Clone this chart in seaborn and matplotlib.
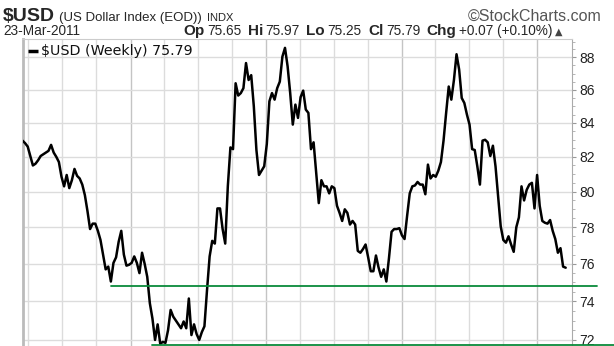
import matplotlib
matplotlib.use("Agg")
import matplotlib.pyplot as plt
import matplotlib.dates as mdates
from matplotlib.ticker import FixedLocator, NullFormatter
import numpy as np
import pandas as pd
import seaborn as sns

# ---------------- data ----------------
week_ending = pd.date_range(end="2011-03-18", periods=210, freq="W-FRI")

usd_close = [
    82.95, 82.8, 82.6, 82.05, 81.5, 81.6, 81.8, 82.05, 82.15, 82.25,
    82.35, 82.7, 82.25, 82.0, 81.7, 80.85, 80.3, 80.95, 80.2, 80.65,
    81.3, 80.9, 80.75, 80.4, 79.8, 78.9, 77.9, 78.2, 78.2, 77.8,
    77.3, 76.5, 75.7, 75.85, 75.05, 76.05, 76.35, 77.2, 77.8, 76.5,
    75.9, 75.95, 76.05, 76.4, 76.05, 75.5, 76.6, 76.0, 75.3, 73.9,
    73.1, 72.0, 72.8, 71.8, 71.9, 71.85, 72.5, 73.55, 73.2, 73.0,
    72.8, 72.6, 72.95, 72.6, 74.15, 72.25, 72.8, 72.3, 72.0, 72.4,
    72.7, 74.6, 76.4, 77.25, 77.1, 79.05, 79.05, 77.9, 77.1, 80.3,
    82.55, 82.45, 86.4, 85.65, 85.8, 86.1, 87.65, 86.6, 86.9, 85.0,
    82.4, 80.95, 81.2, 81.45, 82.75, 85.3, 85.8, 85.4, 86.1, 86.5,
    88.05, 88.6, 87.45, 85.8, 83.9, 85.1, 84.3, 85.55, 85.95, 84.8,
    84.6, 82.45, 82.85, 81.05, 79.35, 80.65, 80.3, 80.3, 79.9, 80.3,
    80.2, 79.2, 78.8, 78.35, 79.0, 78.8, 78.15, 78.35, 78.15, 76.7,
    76.6, 76.8, 77.05, 76.35, 75.6, 75.6, 76.45, 75.8, 75.3, 75.7,
    75.05, 76.3, 77.75, 77.9, 77.9, 77.95, 77.55, 77.35, 78.65, 79.9,
    80.3, 80.35, 80.55, 80.4, 80.4, 79.85, 81.55, 80.75, 80.95, 80.85,
    81.2, 81.7, 82.95, 84.6, 86.2, 85.4, 86.6, 88.2, 87.25, 85.5,
    85.2, 84.5, 83.9, 82.45, 82.4, 81.45, 80.4, 82.95, 83.0, 82.85,
    82.05, 82.65, 81.45, 79.7, 78.05, 77.3, 77.15, 77.5, 77.05, 76.65,
    78.0, 78.55, 80.3, 79.5, 80.1, 80.4, 80.5, 79.05, 80.95, 79.2,
    78.35, 78.25, 78.2, 78.4, 77.8, 77.35, 76.6, 76.85, 75.85, 75.79,
]

y_ticks = [72, 74, 76, 78, 80, 82, 84, 86, 88]
y_tick_labels = ["72", "74", "76", "78", "80", "82", "84", "86", "88"]

support_levels = [74.8, 71.75]
support_from = ["2007-11-09", "2008-02-29"]

quarter_starts = pd.date_range("2007-04-01", "2011-01-01", freq="QS")
year_starts = pd.date_range("2008-01-01", "2011-01-01", freq="YS")

title_symbol = "$USD"
title_name = "(US Dollar Index (EOD))"
title_exchange = "INDX"
credit = "\u00a9StockCharts.com"
date_label = "23-Mar-2011"
quote_labels = ["Op", "Hi", "Lo", "Cl", "Chg"]
quote_values = ["75.65", "75.97", "75.25", "75.79", "+0.07 (+0.10%)"]
legend_label = "$USD (Weekly) 75.79"

df = pd.DataFrame({"date": week_ending, "close": usd_close})

# ---------------- figure ----------------
sns.set_theme(style="white")
plt.rcParams["font.family"] = ["Liberation Sans", "DejaVu Sans"]

W, H = 614, 346
fig = plt.figure(figsize=(W / 100, H / 100), dpi=100)
ax_left, ax_right, ax_top, ax_bottom = 22.5, 572, 39, 346
ax = fig.add_axes([ax_left / W, 1 - ax_bottom / H,
                   (ax_right - ax_left) / W, (ax_bottom - ax_top) / H])

grid_c = "#dcdcdc"
year_c = "#c4c4c4"

sns.lineplot(data=df, x="date", y="close", ax=ax, color="black",
             linewidth=1.8, zorder=5)

ax.set_yscale("log")
ax.set_ylim(71.69, 89.16)
x0 = mdates.date2num(week_ending[0])
x1 = mdates.date2num(week_ending[-1] + pd.Timedelta(days=17))
ax.set_xlim(x0, x1)

# grid
for d in quarter_starts:
    c = year_c if d in year_starts else grid_c
    ax.axvline(d, color=c, lw=1.0, zorder=1)
for v in y_ticks:
    ax.axhline(v, color=grid_c, lw=1.0, zorder=1)

# support lines
ext_right = [(597 - ax_left) / (ax_right - ax_left), (614 - ax_left) / (ax_right - ax_left)]
for lvl, start, xe in zip(support_levels, support_from, ext_right):
    xs = (mdates.date2num(pd.Timestamp(start)) - x0) / (x1 - x0)
    ax.axhline(lvl, xmin=xs, xmax=xe, color="#0a8a3a", lw=1.3,
               clip_on=False, zorder=6)

# axes styling
ax.yaxis.tick_right()
ax.yaxis.set_major_locator(FixedLocator(y_ticks))
ax.yaxis.set_minor_locator(FixedLocator(list(np.arange(72, 89.5, 0.5))))
ax.set_yticklabels(y_tick_labels)
ax.yaxis.set_minor_formatter(NullFormatter())
ax.tick_params(axis="y", which="major", length=3, width=0.8, color="#999999",
               labelsize=10, labelcolor="#222222", pad=2, right=True, left=False)
ax.tick_params(axis="y", which="minor", length=2, width=0.6, color="#aaaaaa",
               right=True, left=False)
ax.set_xticks([])
ax.set_xlabel("")
ax.set_ylabel("")
ax.spines["left"].set_color("#bbbbbb")
ax.spines["left"].set_linewidth(2.0)
ax.spines["top"].set_color("#cccccc")
ax.spines["top"].set_linewidth(0.8)
ax.spines["right"].set_color("#aaaaaa")
ax.spines["right"].set_linewidth(0.8)
ax.spines["bottom"].set_visible(False)
ax.set_facecolor("white")

# legend text inside plot
ax.plot([0.010, 0.028], [0.962, 0.962], transform=ax.transAxes, color="black",
        lw=2.5, solid_capstyle="butt", zorder=7)
ax.text(0.034, 0.962, legend_label, transform=ax.transAxes, fontsize=10.3,
        family="DejaVu Sans", va="center", ha="left", color="#111111", zorder=7)

# header line 1
def chain(prev, s, gap_pts, y, **kw):
    return ax.annotate(s, xy=(1, y), xycoords=(prev, "figure fraction"),
                       xytext=(gap_pts, 0), textcoords="offset points",
                       va="baseline", ha="left", annotation_clip=False, **kw)

y1 = 1 - 21 / H
t = fig.text(3 / W, y1, title_symbol, fontsize=14, fontweight="bold",
             va="baseline", ha="left")
t = chain(t, title_name, 3, y1, fontsize=9.5)
t = chain(t, title_exchange, 4, y1, fontsize=8)
fig.text(601 / W, y1, credit, fontsize=11.5, color="#555555",
         va="baseline", ha="right")

# header line 2
y2 = 1 - 35 / H
fig.text(3 / W, y2, date_label, fontsize=9.8, va="baseline", ha="left")
t = fig.text(183 / W, y2, quote_labels[0], fontsize=11, fontweight="bold",
             va="baseline", ha="left")
for i, (lab, val) in enumerate(zip(quote_labels, quote_values)):
    if i > 0:
        t = chain(t, lab, 4.5, y2, fontsize=11, fontweight="bold")
    t = chain(t, val, 2, y2, fontsize=9.8)
chain(t, "\u25b2", 2, y2, fontsize=7, color="#444444", family="DejaVu Sans")

fig.savefig("out.png", dpi=100, facecolor="white")
